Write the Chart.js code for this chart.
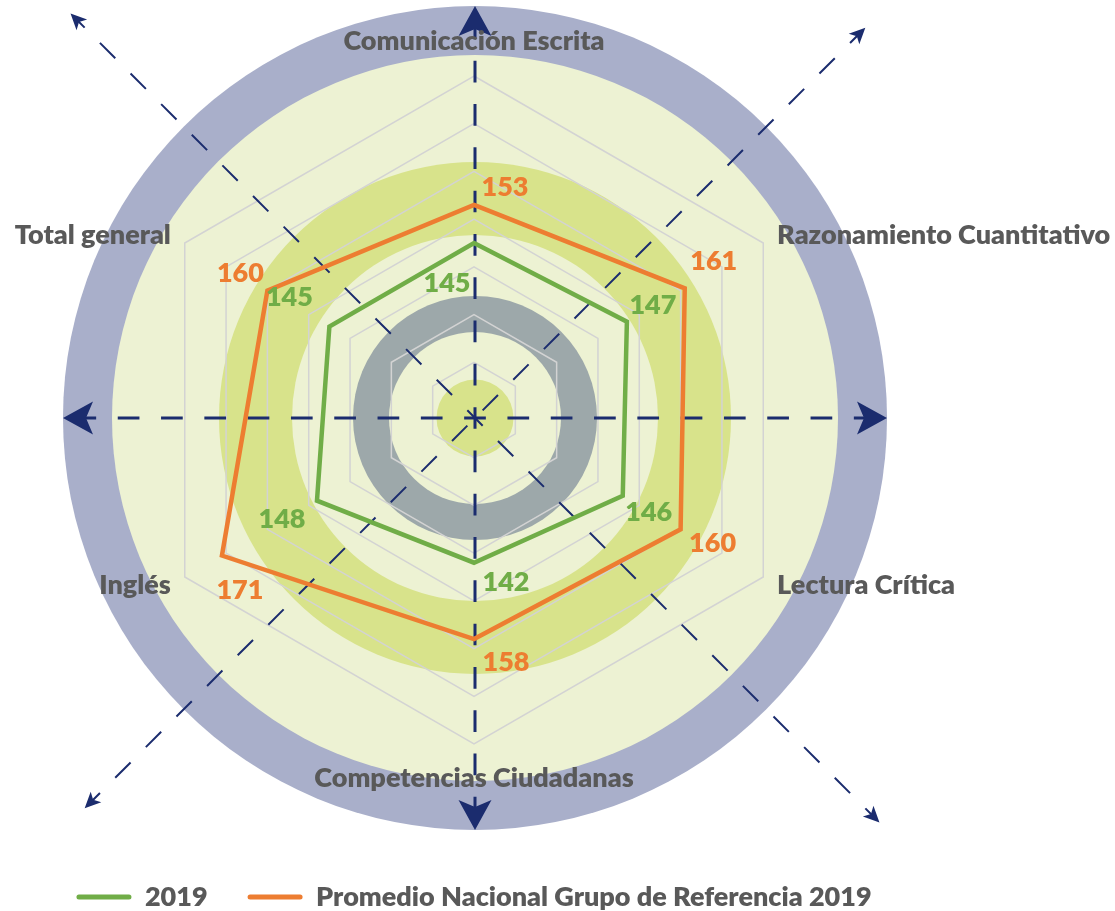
<!DOCTYPE html>
<html>
<head>
<meta charset="utf-8">
<script src="https://cdn.jsdelivr.net/npm/chart.js@4.4.1/dist/chart.umd.min.js"></script>
<style>
html,body{margin:0;padding:0;background:#fff;}
canvas{display:block;}
</style>
</head>
<body>
<canvas id="c" width="1115" height="911"></canvas>
<script>
// ---------------- data ----------------
const categories = ['Comunicación Escrita', 'Razonamiento Cuantitativo', 'Lectura Crítica', 'Competencias Ciudadanas', 'Inglés', 'Total general'];
const values2019 = [145, 147, 146, 142, 148, 145];
const valuesPromedio = [153, 161, 160, 158, 171, 160];
const seriesNames = ['2019', 'Promedio Nacional Grupo de Referencia 2019'];
const scaleMin = 110;
const scaleMax = 180;
const scaleStep = 10;

// ---------------- style ----------------
const FONT = 'Lato, "Open Sans", "DejaVu Sans", sans-serif';
const FONT_SIZE = 27;
const FONT_WEIGHT = 800;
const TEXT = '#595959';
const GREEN = '#70AD47';
const ORANGE = '#ED7D31';
const NAVY = '#1B2C6E';
// data-label placement relative to each point (pixels)
const labelOffsets = [
  [[-27, 40], [26, -16], [26, 16], [32, 20], [-35, 19], [-40, -29]],
  [[31, -18], [29, -27], [32, 14], [32, 23], [18, 35], [-27, -17]]
];

const backdrop = {
  id: 'backdrop',
  beforeDraw(chart) {
    const ctx = chart.ctx, s = chart.scales.r;
    const cx = s.xCenter + 1, cy = s.yCenter + 8;
    ctx.save();
    ctx.fillStyle = '#ffffff';
    ctx.fillRect(0, 0, chart.width, chart.height);
    const disc = (r, c) => { ctx.beginPath(); ctx.arc(cx, cy, r, 0, Math.PI * 2); ctx.fillStyle = c; ctx.fill(); };
    disc(412, '#A9AFCA');
    disc(363, '#EDF2D3');
    disc(256, '#D8E38B');
    disc(183, '#EDF2D3');
    disc(122, '#9DA8AA');
    disc(86, '#EDF2D3');
    disc(38.5, '#D8E38B');
    ctx.restore();
  }
};

function arrow(ctx, cx, cy, ang, len, lw, head, half, notch, offset) {
  const ux = Math.cos(ang), uy = Math.sin(ang), px = -uy, py = ux;
  ctx.save();
  ctx.strokeStyle = NAVY; ctx.fillStyle = NAVY; ctx.lineWidth = lw;
  ctx.setLineDash([21.7, 21.6]);
  ctx.lineDashOffset = offset;
  ctx.beginPath();
  ctx.moveTo(cx, cy);
  ctx.lineTo(cx + ux * (len - head * 0.4), cy + uy * (len - head * 0.4));
  ctx.stroke();
  ctx.setLineDash([]);
  const tx = cx + ux * len, ty = cy + uy * len;
  const bx = cx + ux * (len - head), by = cy + uy * (len - head);
  const nx = cx + ux * (len - head + notch), ny = cy + uy * (len - head + notch);
  ctx.beginPath();
  ctx.moveTo(tx, ty);
  ctx.lineTo(bx + px * half, by + py * half);
  ctx.lineTo(nx, ny);
  ctx.lineTo(bx - px * half, by - py * half);
  ctx.closePath();
  ctx.fill();
  ctx.restore();
}

const arrows = {
  id: 'arrows',
  beforeDatasetsDraw(chart) {
    const ctx = chart.ctx, s = chart.scales.r;
    const cx = s.xCenter + 1, cy = s.yCenter + 8;
    const P = Math.PI;
    // axis arrows
    [0, P / 2, P, -P / 2].forEach(a => arrow(ctx, cx, cy, a, 412, 3, 30, 16.5, 7, 10.85));
    // diagonal arrows
    arrow(ctx, cx, cy, -3 * P / 4, 572, 2, 16, 7.5, 4, 10.85);
    arrow(ctx, cx, cy, P / 4, 572, 2, 16, 7.5, 4, 10.85);
    arrow(ctx, cx, cy, -P / 4, 552, 2, 16, 7.5, 4, 32.5);
    arrow(ctx, cx, cy, 3 * P / 4, 552, 2, 16, 7.5, 4, 32.5);
  }
};

const texts = {
  id: 'texts',
  afterDatasetsDraw(chart) {
    const ctx = chart.ctx, s = chart.scales.r;
    ctx.save();
    ctx.font = FONT_WEIGHT + ' ' + FONT_SIZE + 'px ' + FONT;
    ctx.textBaseline = 'middle';
    ctx.textAlign = 'center';
    chart.data.datasets.forEach((ds, di) => {
      const meta = chart.getDatasetMeta(di);
      ctx.fillStyle = ds.borderColor;
      meta.data.forEach((pt, i) => {
        const off = labelOffsets[di][i];
        ctx.fillText(String(ds.data[i]), pt.x + off[0], pt.y + off[1]);
      });
    });
    ctx.fillStyle = TEXT;
    chart.data.labels.forEach((lab, i) => {
      const p = s.getPointPosition(i, s.drawingArea + 16);
      let y = p.y;
      if (Math.abs(p.x - s.xCenter) < 1) {
        ctx.textAlign = 'center';
        y += (p.y < s.yCenter ? -19 : 18);
      } else {
        ctx.textAlign = p.x > s.xCenter ? 'left' : 'right';
      }
      ctx.fillText(lab, p.x, y);
    });
    ctx.restore();
  }
};

function build() {
  Chart.defaults.font.family = FONT;
  new Chart(document.getElementById('c'), {
    type: 'radar',
    data: {
      labels: categories,
      datasets: [
        { label: seriesNames[0], data: values2019, borderColor: GREEN, backgroundColor: GREEN, borderWidth: 4.5, fill: false, pointRadius: 0, pointHoverRadius: 0, borderJoinStyle: 'miter', tension: 0 },
        { label: seriesNames[1], data: valuesPromedio, borderColor: ORANGE, backgroundColor: ORANGE, borderWidth: 4.5, fill: false, pointRadius: 0, pointHoverRadius: 0, borderJoinStyle: 'miter', tension: 0 }
      ]
    },
    options: {
      responsive: false,
      animation: false,
      devicePixelRatio: 1,
      events: [],
      layout: { padding: { top: 76, left: 0, right: 167, bottom: -9.5 } },
      scales: {
        r: {
          min: scaleMin, max: scaleMax, beginAtZero: false,
          ticks: { display: false, stepSize: scaleStep },
          grid: { color: '#D3D3D3', lineWidth: 1.5, circular: false },
          angleLines: { display: false },
          pointLabels: { display: false }
        }
      },
      plugins: {
        tooltip: { enabled: false },
        legend: {
          position: 'bottom',
          title: { display: true, text: '', padding: { top: 87.5, bottom: 0 }, font: { size: 10, lineHeight: 1.2 } },
          labels: {
            font: { family: FONT, size: FONT_SIZE, weight: FONT_WEIGHT },
            color: TEXT,
            boxWidth: 55, boxHeight: 5, padding: 40,
            generateLabels(chart) {
              const items = Chart.defaults.plugins.legend.labels.generateLabels(chart);
              items.forEach(it => { it.lineWidth = 0; it.fillStyle = it.strokeStyle; it.borderRadius = 2.5; });
              return items;
            }
          }
        }
      }
    },
    plugins: [backdrop, arrows, texts]
  });
}

if (document.fonts && document.fonts.load) {
  document.fonts.load(FONT_WEIGHT + ' ' + FONT_SIZE + 'px Lato').then(build, build);
} else {
  build();
}
</script>
</body>
</html>
